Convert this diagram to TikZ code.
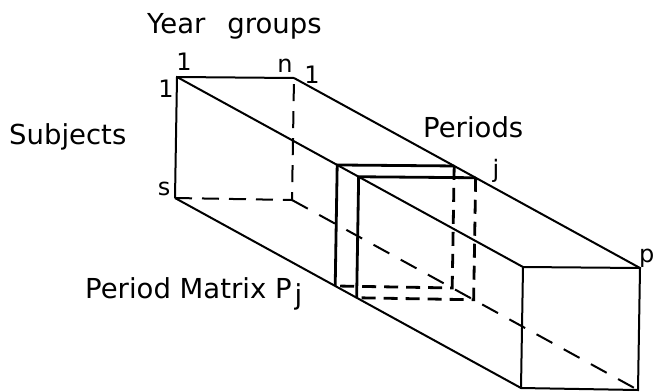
\documentclass[tikz,border=0pt]{standalone}
\usepackage{fontspec}
\setmainfont{DejaVu Sans}
\usetikzlibrary{calc}
\definecolor{ink}{HTML}{000000}
\newcommand{\bigfont}{\fontsize{27.5}{31}\selectfont}
\newcommand{\tagfont}{\fontsize{24}{28}\selectfont}
\tikzset{
  edge/.style={ink, line width=2pt},
  hidden/.style={edge, dash pattern=on 17pt off 10pt},
  slab/.style={ink, line width=2.8pt},
  slabhidden/.style={slab, dash pattern=on 14pt off 8pt},
  word/.style={anchor=base west, font=\bigfont, inner sep=0pt, text=ink},
  tag/.style={anchor=base, font=\tagfont, inner sep=0pt, text=ink},
}
\begin{document}
\begin{tikzpicture}[x=1pt,y=-1pt]
\useasboundingbox (0,0) rectangle (655,391);

% ---------- front face: year groups x subjects
\coordinate (a) at (177,77);
\coordinate (b) at (294,78);
\coordinate (c) at (292,200);
\coordinate (d) at (175,198);
\coordinate (v) at (346,190);

% ---------- far face, period p
\coordinate (a2) at ($(a)+(v)$);
\coordinate (b2) at ($(b)+(v)$);
\coordinate (c2) at ($(c)+(v)$);
\coordinate (d2) at ($(d)+(v)$);

% ---------- period matrix slab (two faces along the depth)
\foreach \f/\t in {p/0.463, q/0.525} {
  \coordinate (\f a) at ($(a)!\t!(a2)$);
  \coordinate (\f b) at ($(b)!\t!(b2)$);
  \coordinate (\f c) at ($(c)!\t!(c2)$);
  \coordinate (\f d) at ($(d)!\t!(d2)$);
}

% ---------- box
\draw[edge] (d) -- (a) -- (b);
\draw[hidden] (d) -- (c) -- (b);
\draw[edge] (a) -- (a2);
\draw[edge] (b) -- (b2);
\draw[edge] (d) -- (d2);
\draw[hidden, dash pattern=on 18pt off 13pt] (c) -- (c2);
\draw[edge] (a2) -- (b2) -- (c2) -- (d2) -- cycle;

% ---------- slab faces
\foreach \f in {p, q} {
  \draw[slab] (\f d) -- (\f a) -- (\f b);
  \draw[slabhidden] (\f b) -- (\f c) -- (\f d);
}

% ---------- labels
\node[word] (years) at (147,33) {Year\hspace{0.8em}groups};
\node[word] (subjects) at (9,144) {Subjects};
\node[word] (periods) at (423,137) {Periods};
\node[word] (matrix) at (85,298) {Period Matrix P\kern3pt\raisebox{-6pt}{j}};
\node[tag] (yfirst) at (184,70) {1};
\node[tag] (ylast) at (285,72) {n};
\node[tag] (pfirst) at (312,83) {1};
\node[tag] (sfirst) at (166,97) {1};
\node[tag] (slast) at (164,195) {s};
\node[tag] (pj) at (496,177) {j};
\node[tag, anchor=base west] (plast) at (639,262) {p};

\end{tikzpicture}
\end{document}
